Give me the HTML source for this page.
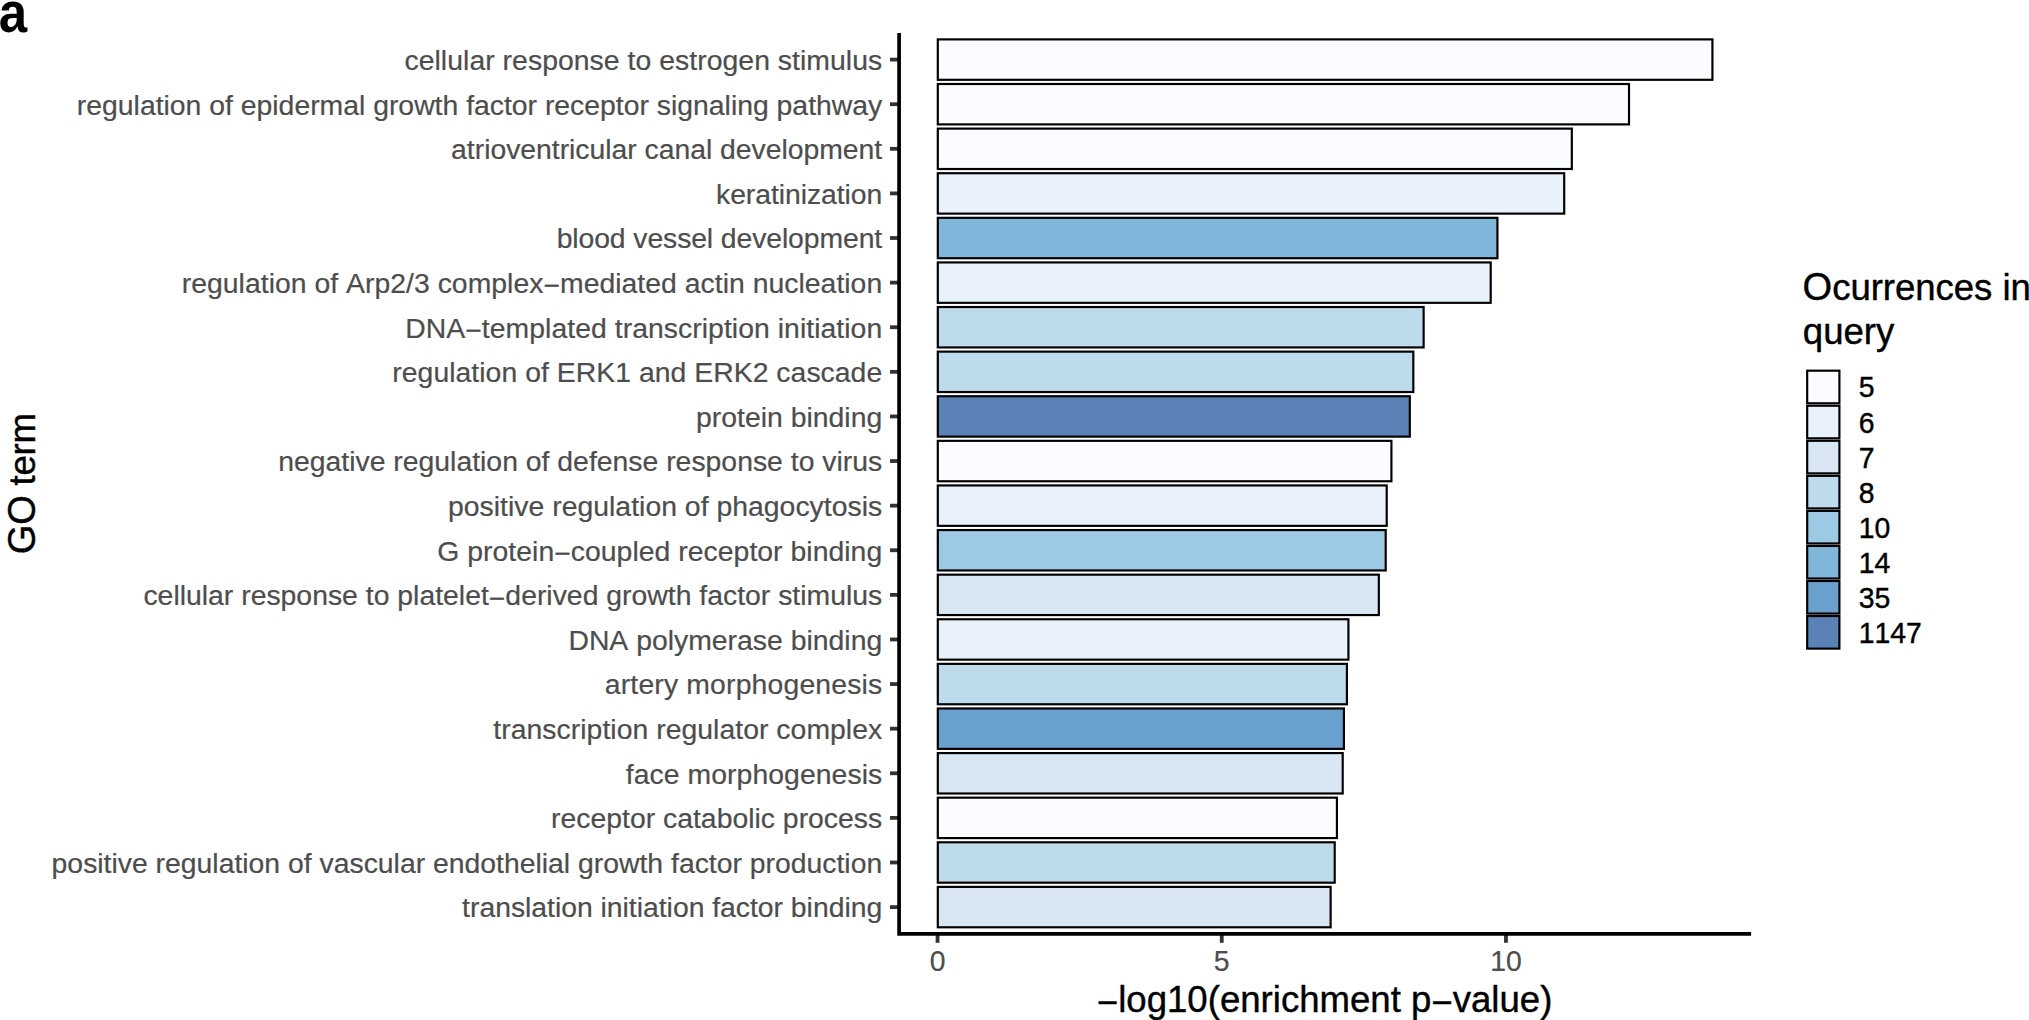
<!DOCTYPE html>
<html lang="en"><head><meta charset="utf-8"><title>GO term enrichment</title>
<style>html,body{margin:0;padding:0;background:#fff;}body{width:2029px;height:1020px;overflow:hidden;}svg{display:block;}text{stroke-width:0.2px;font-family:"Liberation Sans",Arial,Helvetica,sans-serif;font-kerning:none;}.yl{font-size:28.37px;fill:#4d4d4d;stroke:#4d4d4d;text-anchor:end;}.xl{font-size:28.37px;fill:#4d4d4d;stroke:#4d4d4d;text-anchor:middle;}.lt{font-size:28.37px;fill:#000;stroke:#000;stroke-width:0.4px;}.ti{font-size:36.60px;fill:#000;stroke:#000;stroke-width:0.4px;}.bar{stroke:#000;stroke-width:2.17;}.tk{stroke:#333333;stroke-width:3.8;fill:none;}</style></head><body>
<svg width="2029" height="1020" viewBox="0 0 2029 1020">
<rect width="2029" height="1020" fill="#fff"/>
<text transform="translate(-1.2 32.25) scale(0.88 1)" style="font-size:58px;font-weight:bold;fill:#000;">a</text>
<g class="bars">
<rect class="bar" x="937.80" y="39.40" width="774.62" height="40.40" fill="#fafcff"/>
<rect class="bar" x="937.80" y="84.00" width="691.21" height="40.40" fill="#fafcff"/>
<rect class="bar" x="937.80" y="128.61" width="634.02" height="40.40" fill="#fafcff"/>
<rect class="bar" x="937.80" y="173.22" width="626.41" height="40.40" fill="#e9f2fa"/>
<rect class="bar" x="937.80" y="217.82" width="559.62" height="40.40" fill="#80b6d9"/>
<rect class="bar" x="937.80" y="262.43" width="552.91" height="40.40" fill="#e9f2fa"/>
<rect class="bar" x="937.80" y="307.03" width="485.82" height="40.40" fill="#bedbeb"/>
<rect class="bar" x="937.80" y="351.63" width="475.52" height="40.40" fill="#bedbeb"/>
<rect class="bar" x="937.80" y="396.24" width="472.02" height="40.40" fill="#5a82b7"/>
<rect class="bar" x="937.80" y="440.85" width="453.62" height="40.40" fill="#fafcff"/>
<rect class="bar" x="937.80" y="485.45" width="448.91" height="40.40" fill="#e9f2fa"/>
<rect class="bar" x="937.80" y="530.05" width="447.91" height="40.40" fill="#9cc9e4"/>
<rect class="bar" x="937.80" y="574.66" width="441.02" height="40.40" fill="#d9e7f4"/>
<rect class="bar" x="937.80" y="619.26" width="410.62" height="40.40" fill="#e9f2fa"/>
<rect class="bar" x="937.80" y="663.87" width="409.12" height="40.40" fill="#bedbeb"/>
<rect class="bar" x="937.80" y="708.47" width="406.12" height="40.40" fill="#6aa0cd"/>
<rect class="bar" x="937.80" y="753.08" width="404.91" height="40.40" fill="#d9e7f4"/>
<rect class="bar" x="937.80" y="797.68" width="399.12" height="40.40" fill="#fafcff"/>
<rect class="bar" x="937.80" y="842.29" width="396.91" height="40.40" fill="#bedbeb"/>
<rect class="bar" x="937.80" y="886.89" width="392.82" height="40.40" fill="#d9e7f4"/>
</g>
<g class="yaxis">
<path class="tk" d="M890 59.60H899.10"/>
<text class="yl" x="882.20" y="69.90" textLength="477.72" lengthAdjust="spacing">cellular response to estrogen stimulus</text>
<path class="tk" d="M890 104.20H899.10"/>
<text class="yl" x="882.20" y="114.50" textLength="805.34" lengthAdjust="spacing">regulation of epidermal growth factor receptor signaling pathway</text>
<path class="tk" d="M890 148.81H899.10"/>
<text class="yl" x="882.20" y="159.11" textLength="431.09" lengthAdjust="spacing">atrioventricular canal development</text>
<path class="tk" d="M890 193.41H899.10"/>
<text class="yl" x="882.20" y="203.72" textLength="166.16" lengthAdjust="spacing">keratinization</text>
<path class="tk" d="M890 238.02H899.10"/>
<text class="yl" x="882.20" y="248.32" textLength="325.54" lengthAdjust="spacing">blood vessel development</text>
<path class="tk" d="M890 282.62H899.10"/>
<text class="yl" x="882.20" y="292.93" textLength="700.44" lengthAdjust="spacing">regulation of Arp2/3 complex<tspan dy="0.090em">−</tspan><tspan dy="-0.090em">mediated actin nucleation</tspan></text>
<path class="tk" d="M890 327.23H899.10"/>
<text class="yl" x="882.20" y="337.53" textLength="476.93" lengthAdjust="spacing">DNA<tspan dy="0.090em">−</tspan><tspan dy="-0.090em">templated transcription initiation</tspan></text>
<path class="tk" d="M890 371.83H899.10"/>
<text class="yl" x="882.20" y="382.13" textLength="489.90" lengthAdjust="spacing">regulation of ERK1 and ERK2 cascade</text>
<path class="tk" d="M890 416.44H899.10"/>
<text class="yl" x="882.20" y="426.74" textLength="186.12" lengthAdjust="spacing">protein binding</text>
<path class="tk" d="M890 461.05H899.10"/>
<text class="yl" x="882.20" y="471.35" textLength="604.04" lengthAdjust="spacing">negative regulation of defense response to virus</text>
<path class="tk" d="M890 505.65H899.10"/>
<text class="yl" x="882.20" y="515.95" textLength="434.20" lengthAdjust="spacing">positive regulation of phagocytosis</text>
<path class="tk" d="M890 550.25H899.10"/>
<text class="yl" x="882.20" y="560.55" textLength="444.97" lengthAdjust="spacing">G protein<tspan dy="0.090em">−</tspan><tspan dy="-0.090em">coupled receptor binding</tspan></text>
<path class="tk" d="M890 594.86H899.10"/>
<text class="yl" x="882.20" y="605.16" textLength="738.78" lengthAdjust="spacing">cellular response to platelet<tspan dy="0.090em">−</tspan><tspan dy="-0.090em">derived growth factor stimulus</tspan></text>
<path class="tk" d="M890 639.47H899.10"/>
<text class="yl" x="882.20" y="649.76" textLength="313.80" lengthAdjust="spacing">DNA polymerase binding</text>
<path class="tk" d="M890 684.07H899.10"/>
<text class="yl" x="882.20" y="694.37" textLength="277.38" lengthAdjust="spacing">artery morphogenesis</text>
<path class="tk" d="M890 728.67H899.10"/>
<text class="yl" x="882.20" y="738.97" textLength="388.90" lengthAdjust="spacing">transcription regulator complex</text>
<path class="tk" d="M890 773.28H899.10"/>
<text class="yl" x="882.20" y="783.58" textLength="256.48" lengthAdjust="spacing">face morphogenesis</text>
<path class="tk" d="M890 817.88H899.10"/>
<text class="yl" x="882.20" y="828.18" textLength="331.14" lengthAdjust="spacing">receptor catabolic process</text>
<path class="tk" d="M890 862.49H899.10"/>
<text class="yl" x="882.20" y="872.79" textLength="830.60" lengthAdjust="spacing">positive regulation of vascular endothelial growth factor production</text>
<path class="tk" d="M890 907.09H899.10"/>
<text class="yl" x="882.20" y="917.39" textLength="420.08" lengthAdjust="spacing">translation initiation factor binding</text>
</g>
<g class="xaxis">
<path class="tk" d="M937.55 933.90V942.8"/>
<text class="xl" transform="translate(937.55 970.80) scale(1 1.02)">0</text>
<path class="tk" d="M1221.75 933.90V942.8"/>
<text class="xl" transform="translate(1221.75 970.80) scale(1 1.02)">5</text>
<path class="tk" d="M1505.95 933.90V942.8"/>
<text class="xl" transform="translate(1505.95 970.80) scale(1 1.02)">10</text>
</g>
<path d="M899.10 33V933.90H1751.1" fill="none" stroke="#000" stroke-width="3.70" stroke-linejoin="miter"/>
<text class="ti" x="1324.60" y="1011.80" text-anchor="middle"><tspan dy="0.090em">−</tspan><tspan dy="-0.090em">log10(enrichment p</tspan><tspan dy="0.090em">−</tspan><tspan dy="-0.090em">value)</tspan></text>
<text class="ti" transform="translate(35.1 483.6) rotate(-90)" text-anchor="middle" textLength="141.11" lengthAdjust="spacing"><tspan style="font-size:38.06px">GO</tspan> term</text>
<g class="legend">
<text class="ti" x="1802.6" y="300" textLength="228.32" lengthAdjust="spacing"><tspan style="font-size:38.06px">O</tspan>currences in</text>
<text class="ti" x="1802.80" y="344.20">query</text>
<rect class="bar" x="1807.18" y="370.69" width="32.23" height="32.58" fill="#fafcff"/>
<text class="lt" transform="translate(1858.70 397.48) scale(1 1.02)">5</text>
<rect class="bar" x="1807.18" y="405.74" width="32.23" height="32.58" fill="#e9f2fa"/>
<text class="lt" transform="translate(1858.70 432.53) scale(1 1.02)">6</text>
<rect class="bar" x="1807.18" y="440.79" width="32.23" height="32.58" fill="#d9e7f4"/>
<text class="lt" transform="translate(1858.70 467.58) scale(1 1.02)">7</text>
<rect class="bar" x="1807.18" y="475.83" width="32.23" height="32.58" fill="#bedbeb"/>
<text class="lt" transform="translate(1858.70 502.62) scale(1 1.02)">8</text>
<rect class="bar" x="1807.18" y="510.88" width="32.23" height="32.58" fill="#9cc9e4"/>
<text class="lt" transform="translate(1858.70 537.67) scale(1 1.02)">10</text>
<rect class="bar" x="1807.18" y="545.94" width="32.23" height="32.58" fill="#80b6d9"/>
<text class="lt" transform="translate(1858.70 572.73) scale(1 1.02)">14</text>
<rect class="bar" x="1807.18" y="580.99" width="32.23" height="32.58" fill="#6aa0cd"/>
<text class="lt" transform="translate(1858.70 607.77) scale(1 1.02)">35</text>
<rect class="bar" x="1807.18" y="616.04" width="32.23" height="32.58" fill="#5a82b7"/>
<text class="lt" transform="translate(1858.70 642.83) scale(1 1.02)">1147</text>
</g>
</svg></body></html>
